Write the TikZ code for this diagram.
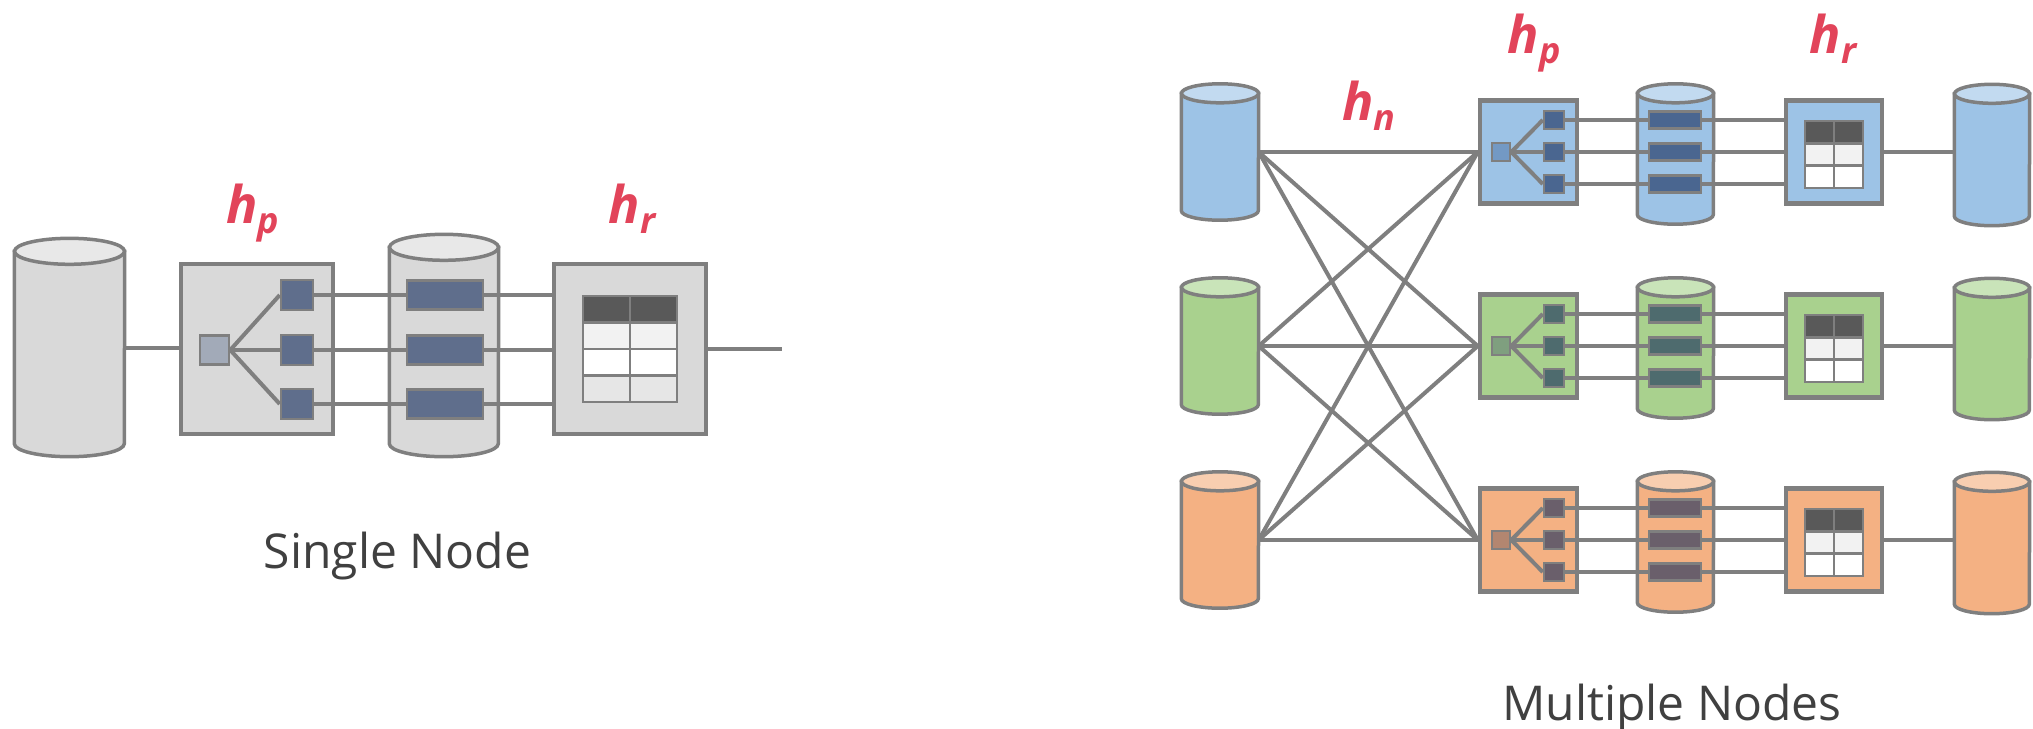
\documentclass[tikz,border=0pt]{standalone}
\usepackage{fontspec}
\setmainfont{Open Sans}

\definecolor{linegray}{HTML}{7F7F7F}
\definecolor{labelred}{HTML}{E2445A}
\definecolor{captiongray}{HTML}{404040}
\definecolor{grayBody}{HTML}{D9D9D9}
\definecolor{grayTop}{HTML}{E8E8E8}
\definecolor{graySplit}{HTML}{A2AAB8}
\definecolor{grayPart}{HTML}{5F6E8C}
\definecolor{blueBody}{HTML}{9DC3E6}
\definecolor{blueTop}{HTML}{C2DAF0}
\definecolor{blueSplit}{HTML}{7399C4}
\definecolor{bluePart}{HTML}{4A6690}
\definecolor{greenBody}{HTML}{A9D18E}
\definecolor{greenTop}{HTML}{C9E4B9}
\definecolor{greenSplit}{HTML}{7F9F7F}
\definecolor{greenPart}{HTML}{4E6B6E}
\definecolor{orangeBody}{HTML}{F4B183}
\definecolor{orangeTop}{HTML}{F8CEB0}
\definecolor{orangeSplit}{HTML}{B38670}
\definecolor{orangePart}{HTML}{6A5F6B}
\definecolor{cellDark}{HTML}{595959}
\definecolor{cellLight}{HTML}{F2F2F2}
\definecolor{cellPale}{HTML}{E6E6E6}

% storage drum: name, centre, width, height, end radius, colour
\newcommand\drum[6]{%
    \node[minimum width=#3, minimum height=#4, inner sep=0pt] (#1) at (#2) {};
    \draw[drumline, fill=#6Body]
        ([yshift=-#5]#1.north west) -- ([yshift=#5]#1.south west)
        arc[start angle=180, end angle=360, x radius=#3/2, y radius=#5]
        -- ([yshift=-#5]#1.north east) -- cycle;
    \draw[drumline, fill=#6Top] ([yshift=-#5]#1.north) ellipse[x radius=#3/2, y radius=#5];
}

\begin{document}
\begin{tikzpicture}[x=1pt, y=-1pt,
    wire/.style={draw=linegray, line width=4pt},
    drumline/.style={draw=linegray, line width=3.5pt},
    stagebox/.style={draw=linegray, line width=4.5pt, fill=#1Body, inner sep=0pt},
    splitbox/.style={draw=linegray, line width=2.5pt, fill=#1Split, inner sep=0pt},
    partbox/.style={draw=linegray, line width=2.5pt, fill=#1Part, inner sep=0pt},
    tablecell/.style={draw=linegray, line width=2.5pt, fill=#1, inner sep=0pt},
    hlabel/.style={text=labelred, anchor=base,
        font=\fontsize{52}{52}\selectfont\bfseries\itshape},
    captiontext/.style={text=captiongray, anchor=base,
        font=\fontsize{48}{48}\selectfont}]
    \useasboundingbox (0,0) rectangle (2033,728);

    % single node
    \drum{srcL}{69.5,347.5}{110pt}{218pt}{13pt}{gray}
    \node[stagebox=gray, minimum width=152pt, minimum height=170pt] (prepL) at (257,349) {};
    \node[splitbox=gray, minimum size=29pt] (sqL) at (214.5,350) {};
    \drum{midL}{444,345.5}{109pt}{222pt}{13pt}{gray}
    \node[stagebox=gray, minimum width=152pt, minimum height=170pt] (redL) at (630,349) {};
    \foreach \k/\y in {1/295, 2/350, 3/404} {
        \node[partbox=gray, minimum width=32pt, minimum height=30pt] (partL-\k) at (297,\y) {};
        \node[partbox=gray, minimum width=76pt, minimum height=29pt] (runL-\k) at (445,\y) {};
    }
    \foreach \r/\f in {0/cellDark, 1/cellLight, 2/white, 3/cellPale}
        \foreach \cc in {0,1}
            \node[tablecell=\f, minimum width=47pt, minimum height=26.5pt]
                (cellL-\r-\cc) at (606.5+47*\cc, 309.25+26.5*\r) {};
    \coordinate (outL) at (782,349);

    \draw[wire] (srcL.east) -- (srcL.east -| prepL.west);
    \foreach \k in {1,2,3} {
        \draw[wire] (sqL.east) -- (partL-\k.west);
        \draw[wire] (partL-\k.east) -- (runL-\k.west);
        \draw[wire] (runL-\k.east) -- (runL-\k.east -| redL.west);
    }
    \draw[wire] (redL.east) -- (outL);

    \node[hlabel] (hpL) at (253,223) {h\raisebox{-10pt}{\fontsize{36}{36}\selectfont p}};
    \node[hlabel] (hrL) at (632,223) {h\raisebox{-10pt}{\fontsize{36}{36}\selectfont r}};
    \node[captiontext] (single) at (397.5,568) {Single Node};

    % multiple nodes
    \foreach \i/\c/\col in {1/152/blue, 2/346/green, 3/540/orange} {
        \drum{src\i}{1220,\c}{77pt}{136pt}{9.5pt}{\col}
        \node[stagebox=\col, minimum width=97pt, minimum height=103pt] (prep\i) at (1528.5,\c) {};
        \node[splitbox=\col, minimum size=18pt] (sq\i) at (1501,\c) {};
        \drum{mid\i}{1675.5,\c+2}{76pt}{140pt}{9.5pt}{\col}
        \node[stagebox=\col, minimum width=96pt, minimum height=103pt] (red\i) at (1834,\c) {};
        \drum{dst\i}{1992,\c+3}{75pt}{141pt}{9.5pt}{\col}
        \foreach \k/\d in {1/-32, 2/0, 3/32} {
            \node[partbox=\col, minimum width=20pt, minimum height=18pt] (part\i-\k) at (1554,\c+\d) {};
            \node[partbox=\col, minimum width=52pt, minimum height=17pt] (run\i-\k) at (1675,\c+\d) {};
            \draw[wire] (sq\i.east) -- (part\i-\k.west);
            \draw[wire] (part\i-\k.east) -- (run\i-\k.west);
            \draw[wire] (run\i-\k.east) -- (run\i-\k.east -| red\i.west);
        }
        \foreach \r/\f in {0/cellDark, 1/cellLight, 2/white}
            \foreach \cc in {0,1}
                \node[tablecell=\f, minimum width=29pt, minimum height=22.3pt]
                    (cell\i-\r-\cc) at (1819.5+29*\cc, \c-19.85+22.3*\r) {};
        \draw[wire] (red\i.east) -- (red\i.east -| dst\i.west);
    }
    \foreach \i in {1,2,3}
        \foreach \j in {1,2,3}
            \draw[wire] (src\i.east) -- (prep\j.west);

    \node[hlabel] (hn) at (1369,120) {h\raisebox{-10pt}{\fontsize{36}{36}\selectfont n}};
    \node[hlabel] (hp) at (1534,53) {h\raisebox{-10pt}{\fontsize{36}{36}\selectfont p}};
    \node[hlabel] (hr) at (1833,53) {h\raisebox{-10pt}{\fontsize{36}{36}\selectfont r}};
    \node[captiontext] (multi) at (1672,720) {Multiple Nodes};
\end{tikzpicture}
\end{document}
